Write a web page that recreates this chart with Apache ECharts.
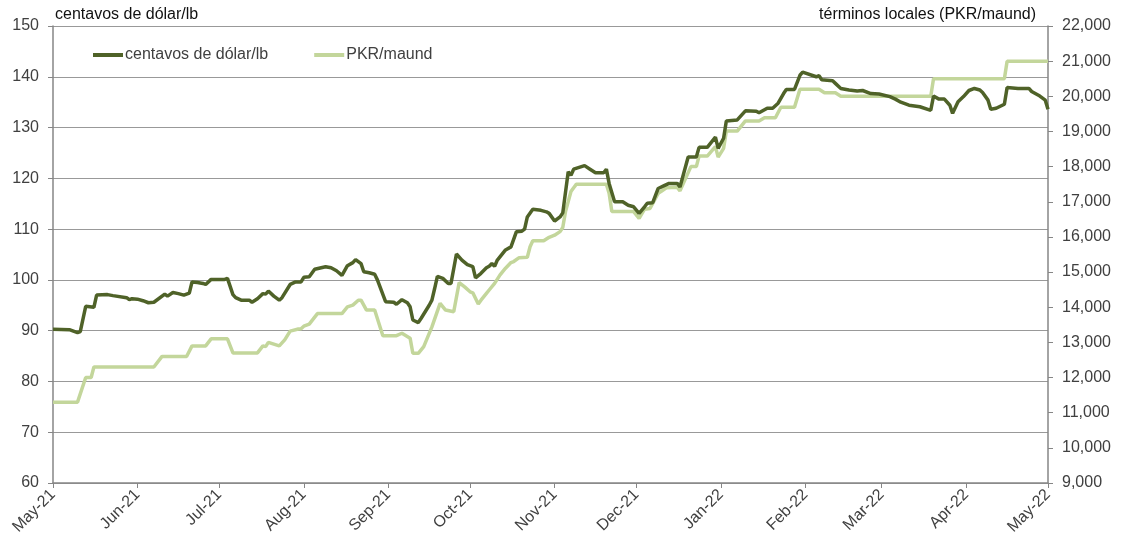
<!DOCTYPE html>
<html>
<head>
<meta charset="utf-8">
<script src="https://cdn.jsdelivr.net/npm/echarts@6/dist/echarts.min.js"></script>
<style>
  html, body { margin: 0; padding: 0; background: #fff; }
  #chart { width: 1127px; height: 550px; }
</style>
</head>
<body>
<div id="chart"></div>
<script>
// month labels for the x axis
const monthNames = ['Jan', 'Feb', 'Mar', 'Apr', 'May', 'Jun', 'Jul', 'Aug', 'Sep', 'Oct', 'Nov', 'Dec'];

// centavos de dólar/lb (left axis)
const usdDates = [
  '2021-05-01','2021-05-07','2021-05-10','2021-05-11','2021-05-13','2021-05-16','2021-05-17','2021-05-21','2021-05-23','2021-05-28',
  '2021-05-29','2021-05-30','2021-06-01','2021-06-03','2021-06-05','2021-06-07','2021-06-11','2021-06-12','2021-06-14','2021-06-16',
  '2021-06-18','2021-06-20','2021-06-21','2021-06-23','2021-06-25','2021-06-26','2021-06-28','2021-07-03','2021-07-04','2021-07-06',
  '2021-07-07','2021-07-09','2021-07-12','2021-07-13','2021-07-15','2021-07-17','2021-07-18','2021-07-19','2021-07-21','2021-07-23',
  '2021-07-24','2021-07-27','2021-07-29','2021-07-31','2021-08-01','2021-08-03','2021-08-05','2021-08-09','2021-08-11','2021-08-13',
  '2021-08-15','2021-08-17','2021-08-19','2021-08-20','2021-08-22','2021-08-23','2021-08-25','2021-08-27','2021-08-28','2021-08-31',
  '2021-09-03','2021-09-04','2021-09-06','2021-09-08','2021-09-09','2021-09-10','2021-09-12','2021-09-13','2021-09-16','2021-09-17',
  '2021-09-18','2021-09-19','2021-09-21','2021-09-23','2021-09-24','2021-09-26','2021-09-28','2021-09-30','2021-10-02','2021-10-03',
  '2021-10-05','2021-10-07','2021-10-08','2021-10-09','2021-10-10','2021-10-11','2021-10-14','2021-10-16','2021-10-18','2021-10-20',
  '2021-10-21','2021-10-22','2021-10-24','2021-10-27','2021-10-29','2021-10-30','2021-11-01','2021-11-03','2021-11-04','2021-11-06',
  '2021-11-07','2021-11-08','2021-11-12','2021-11-14','2021-11-16','2021-11-19','2021-11-20','2021-11-21','2021-11-23','2021-11-26',
  '2021-11-28','2021-11-30','2021-12-02','2021-12-04','2021-12-05','2021-12-07','2021-12-09','2021-12-11','2021-12-13','2021-12-16',
  '2021-12-17','2021-12-20','2021-12-23','2021-12-24','2021-12-27','2021-12-30','2021-12-31','2022-01-02','2022-01-03','2022-01-07',
  '2022-01-10','2022-01-14','2022-01-15','2022-01-18','2022-01-20','2022-01-22','2022-01-24','2022-01-25','2022-01-28','2022-01-30',
  '2022-01-31','2022-02-05','2022-02-06','2022-02-07','2022-02-11','2022-02-12','2022-02-14','2022-02-17','2022-02-20','2022-02-22',
  '2022-02-25','2022-02-28','2022-03-04','2022-03-06','2022-03-08','2022-03-11','2022-03-15','2022-03-19','2022-03-20','2022-03-22',
  '2022-03-24','2022-03-26','2022-03-27','2022-03-29','2022-03-31','2022-04-02','2022-04-04','2022-04-06','2022-04-07','2022-04-09',
  '2022-04-10','2022-04-12','2022-04-15','2022-04-16','2022-04-20','2022-04-24','2022-04-25','2022-04-28','2022-04-30','2022-05-01'
];
const usdValues = [
  90.3, 90.2, 89.6, 89.8, 94.8, 94.6, 97.0, 97.1, 96.9, 96.5,
  96.1, 96.3, 96.2, 95.9, 95.5, 95.6, 97.2, 96.8, 97.5, 97.3,
  97.0, 97.4, 99.6, 99.5, 99.3, 99.1, 100.1, 100.1, 100.3, 97.1,
  96.5, 96.0, 96.0, 95.6, 96.3, 97.3, 97.2, 97.8, 96.8, 96.0,
  96.5, 99.1, 99.6, 99.6, 100.5, 100.6, 102.1, 102.6, 102.4, 101.8,
  100.9, 102.8, 103.4, 104.0, 103.2, 101.6, 101.4, 101.1, 100.0, 95.7,
  95.6, 95.2, 96.1, 95.5, 94.7, 92.1, 91.6, 92.4, 95.0, 96.0,
  98.3, 100.7, 100.3, 99.3, 99.3, 105.1, 103.9, 103.0, 102.6, 100.4,
  101.3, 102.4, 102.7, 103.2, 102.7, 103.9, 105.9, 106.5, 109.5, 109.6,
  110.0, 112.4, 113.9, 113.7, 113.4, 113.1, 111.6, 112.4, 113.2, 121.3,
  120.6, 121.8, 122.5, 121.8, 121.1, 121.1, 121.8, 119.0, 115.4, 115.4,
  114.7, 114.4, 113.1, 114.4, 115.1, 115.2, 118.0, 118.5, 119.0, 119.0,
  118.3, 124.2, 124.2, 126.1, 126.1, 128.1, 125.9, 127.9, 131.3, 131.5,
  133.3, 133.2, 132.9, 133.8, 133.8, 134.8, 136.7, 137.5, 137.5, 140.3,
  140.9, 140.0, 140.2, 139.4, 139.2, 138.7, 137.7, 137.4, 137.2, 137.3,
  136.7, 136.6, 136.1, 135.6, 135.0, 134.4, 134.1, 133.4, 136.2, 135.6,
  135.6, 134.4, 132.8, 135.1, 136.1, 137.3, 137.7, 137.4, 136.9, 135.4,
  133.6, 133.8, 134.6, 137.9, 137.7, 137.7, 137.1, 136.2, 135.4, 133.6
];

// PKR/maund (right axis)
const pkrDates = [
  '2021-05-01','2021-05-10','2021-05-13','2021-05-15','2021-05-16','2021-06-07','2021-06-10','2021-06-19','2021-06-21','2021-06-26',
  '2021-06-28','2021-07-04','2021-07-06','2021-07-15','2021-07-17','2021-07-18','2021-07-19','2021-07-21','2021-07-23','2021-07-25',
  '2021-07-27','2021-07-30','2021-07-31','2021-08-01','2021-08-03','2021-08-06','2021-08-15','2021-08-17','2021-08-19','2021-08-21',
  '2021-08-22','2021-08-24','2021-08-27','2021-08-30','2021-09-04','2021-09-06','2021-09-09','2021-09-10','2021-09-12','2021-09-14',
  '2021-09-17','2021-09-20','2021-09-22','2021-09-25','2021-09-27','2021-09-29','2021-10-01','2021-10-02','2021-10-04','2021-10-05',
  '2021-10-07','2021-10-08','2021-10-10','2021-10-12','2021-10-14','2021-10-16','2021-10-17','2021-10-19','2021-10-22','2021-10-23',
  '2021-10-24','2021-10-28','2021-10-30','2021-11-01','2021-11-03','2021-11-04','2021-11-05','2021-11-07','2021-11-08','2021-11-09',
  '2021-11-20','2021-11-21','2021-11-22','2021-11-30','2021-12-02','2021-12-04','2021-12-06','2021-12-09','2021-12-10','2021-12-12',
  '2021-12-16','2021-12-17','2021-12-21','2021-12-23','2021-12-24','2021-12-27','2021-12-30','2021-12-31','2022-01-02','2022-01-03',
  '2022-01-07','2022-01-10','2022-01-15','2022-01-17','2022-01-21','2022-01-23','2022-01-28','2022-01-30','2022-02-06','2022-02-08',
  '2022-02-12','2022-02-14','2022-03-19','2022-03-20','2022-04-15','2022-04-16','2022-05-01'
];
const pkrValues = [
  11300, 11300, 12000, 12000, 12300, 12300, 12600, 12600, 12900, 12900,
  13100, 13100, 12700, 12700, 12900, 12880, 13000, 12950, 12900, 13070,
  13320, 13380, 13390, 13460, 13520, 13820, 13820, 14010, 14060, 14200,
  14200, 13920, 13920, 13190, 13190, 13260, 13120, 12690, 12690, 12880,
  13440, 14110, 13920, 13870, 14700, 14580, 14440, 14410, 14090, 14200,
  14395, 14490, 14680, 14920, 15110, 15270, 15300, 15410, 15420, 15720,
  15890, 15890, 15990, 16050, 16150, 16270, 16720, 17290, 17400, 17500,
  17500, 17240, 16720, 16720, 16530, 16790, 16810, 17240, 17290, 17400,
  17410, 17310, 18000, 18000, 18300, 18300, 18570, 18270, 18520, 19010,
  19010, 19300, 19300, 19390, 19390, 19690, 19690, 20200, 20200, 20100,
  20100, 20000, 20000, 20500, 20500, 21000, 21000
];

const usdData = usdDates.map((d, i) => [d, usdValues[i]]);
const pkrData = pkrDates.map((d, i) => [d, pkrValues[i]]);

const chart = echarts.init(document.getElementById('chart'));
const axisGray = '#868686';
const labelColor = '#404040';
const fontFamily = '"Liberation Sans", Arial, sans-serif';

chart.setOption({
  animation: false,
  textStyle: { fontFamily: fontFamily },
  grid: { left: 53, right: 79, top: 26, bottom: 67 },
  legend: {
    left: 88,
    top: 42,
    itemGap: 46,
    itemWidth: 30,
    itemHeight: 4,
    icon: 'rect',
    textStyle: { fontSize: 16, color: labelColor, fontFamily: fontFamily, padding: [0, 0, 0, -3] },
    data: ['centavos de dólar/lb', 'PKR/maund']
  },
  xAxis: {
    type: 'time',
    min: '2021-05-01',
    max: '2022-05-01',
    splitNumber: 12,
    minInterval: 28 * 86400000,
    maxInterval: 31 * 86400000,
    axisLine: { lineStyle: { color: axisGray, width: 1.5 } },
    axisTick: { show: true, length: 5, lineStyle: { color: axisGray } },
    splitLine: { show: false },
    axisLabel: {
      rotate: 45,
      margin: 9,
      fontSize: 16,
      color: labelColor,
      showMinLabel: true,
      showMaxLabel: true,
      hideOverlap: false,
      formatter: function (value) {
        const d = new Date(value);
        return monthNames[d.getMonth()] + '-' + String(d.getFullYear()).slice(2);
      }
    }
  },
  yAxis: [
    {
      type: 'value',
      min: 60,
      max: 150,
      interval: 10,
      name: 'centavos de dólar/lb',
      nameLocation: 'end',
      nameGap: 3,
      nameTextStyle: { align: 'left', fontSize: 16, color: '#111', padding: [0, 0, 0, 2] },
      axisLine: { show: true, lineStyle: { color: axisGray, width: 1.5 } },
      axisTick: { show: true, length: 5, lineStyle: { color: axisGray } },
      splitLine: { show: true, lineStyle: { color: '#999999', width: 1.2 } },
      axisLabel: { fontSize: 16, color: labelColor, margin: 14 }
    },
    {
      type: 'value',
      min: 9000,
      max: 22000,
      interval: 1000,
      position: 'right',
      name: 'términos locales (PKR/maund)',
      nameLocation: 'end',
      nameGap: 3,
      nameTextStyle: { align: 'right', fontSize: 16, color: '#111', padding: [0, 12, 0, 0] },
      axisLine: { show: true, lineStyle: { color: axisGray, width: 1.5 } },
      axisTick: { show: true, length: 5, lineStyle: { color: axisGray } },
      splitLine: { show: false },
      axisLabel: {
        fontSize: 16,
        color: labelColor,
        margin: 14,
        formatter: function (v) { return v.toLocaleString('en-US'); }
      }
    }
  ],
  series: [
    {
      name: 'centavos de dólar/lb',
      type: 'line',
      yAxisIndex: 0,
      symbol: 'none',
      data: usdData,
      z: 3,
      itemStyle: { color: '#4f6228' },
      lineStyle: { color: '#4f6228', width: 3.5 }
    },
    {
      name: 'PKR/maund',
      type: 'line',
      yAxisIndex: 1,
      symbol: 'none',
      data: pkrData,
      z: 2,
      itemStyle: { color: '#c3d69b' },
      lineStyle: { color: '#c3d69b', width: 3.5 }
    }
  ]
});
</script>
</body>
</html>
